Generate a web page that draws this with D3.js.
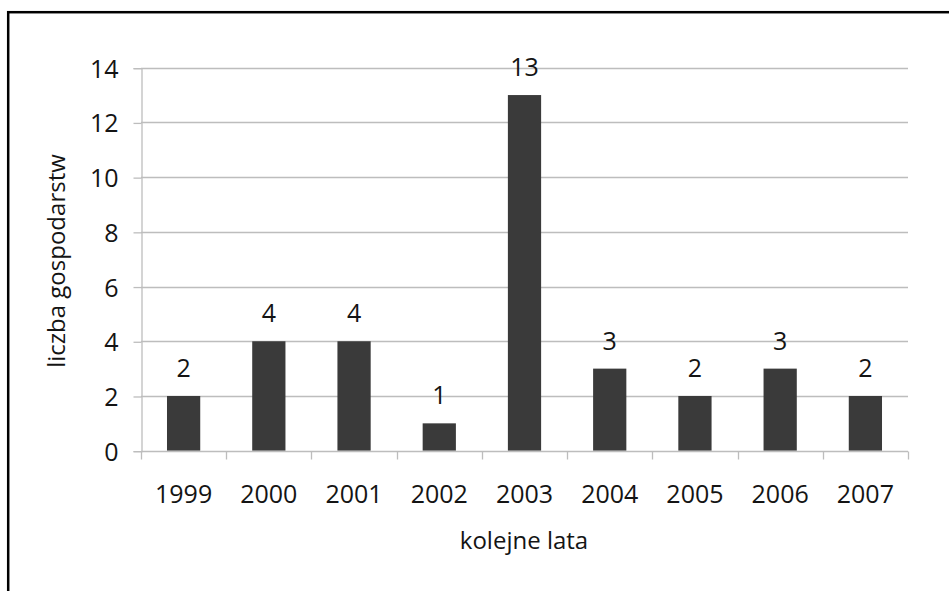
<!DOCTYPE html>
<html>
<head>
<meta charset="utf-8">
<script src="https://cdn.jsdelivr.net/npm/d3@7"></script>
<style>
html,body{margin:0;padding:0;background:#fff;}
svg{display:block;}
text{font-family:"Open Sans",sans-serif;fill:#141414;}
</style>
</head>
<body>
<svg id="chart" width="949" height="591"></svg>
<script>
const years = ["1999","2000","2001","2002","2003","2004","2005","2006","2007"];
const counts = [2,4,4,1,13,3,2,3,2];
const yTicks = [0,2,4,6,8,10,12,14];
const xTitle = "kolejne lata";
const yTitle = "liczba gospodarstw";

const svg = d3.select("#chart");
const plot = {left:141, right:908, top:67.7, bottom:450.7};

// frame
svg.append("rect").attr("x",8.2).attr("y",12.2).attr("width",1200).attr("height",1200)
  .attr("fill","none").attr("stroke","#000").attr("stroke-width",2.5);

const x = d3.scaleBand().domain(years).range([plot.left, plot.right])
  .paddingInner(0.61).paddingOuter(0.305);
const y = d3.scaleLinear().domain([0,14]).range([plot.bottom, plot.top]);

const fsNum = 25, fsTitle = 24;

// gridlines
svg.append("g").selectAll("line").data(yTicks.filter(d=>d>0)).join("line")
  .attr("x1",plot.left).attr("x2",plot.right)
  .attr("y1",d=>Math.round(y(d))+0.5).attr("y2",d=>Math.round(y(d))+0.5)
  .attr("stroke","#bdbdbd").attr("stroke-width",1.3);

// y axis
const yAxis = d3.axisLeft(y).tickValues(yTicks).tickSize(8).tickPadding(15);
const gy = svg.append("g").attr("transform",`translate(${plot.left+0.5},0.5)`).call(yAxis);
gy.select(".domain").attr("stroke","#bdbdbd").attr("stroke-width",1.3);
gy.selectAll(".tick line").attr("stroke","#bdbdbd").attr("stroke-width",1.3);
gy.selectAll(".tick text").attr("font-size",fsNum).attr("font-family","'Open Sans',sans-serif")
  .attr("fill","#141414").attr("dy","0.36em");

// bars
svg.append("g").selectAll("rect").data(counts).join("rect")
  .attr("x",(d,i)=>x(years[i])).attr("width",x.bandwidth())
  .attr("y",d=>y(d)).attr("height",d=>plot.bottom-y(d))
  .attr("fill","#3a3a3a");

// x axis
const gx = svg.append("g").attr("transform",`translate(0,${Math.round(plot.bottom)+0.5})`);
gx.append("line").attr("x1",plot.left).attr("x2",plot.right)
  .attr("stroke","#bdbdbd").attr("stroke-width",1.3);
const bounds = years.map(d=>x(d)-x.step()*x.paddingInner()/2);
bounds[0] = plot.left; bounds.push(plot.right);
gx.selectAll("line.tk").data(bounds).join("line").attr("class","tk")
  .attr("x1",d=>Math.round(d)+0.5).attr("x2",d=>Math.round(d)+0.5)
  .attr("y1",0).attr("y2",8).attr("stroke","#bdbdbd").attr("stroke-width",1.3);
gx.selectAll("text").data(years).join("text")
  .attr("x",d=>x(d)+x.bandwidth()/2).attr("y",51)
  .attr("text-anchor","middle").attr("font-size",fsNum).text(d=>d);

// value labels
svg.append("g").selectAll("text").data(counts).join("text")
  .attr("x",(d,i)=>x(years[i])+x.bandwidth()/2).attr("y",d=>y(d)-19)
  .attr("text-anchor","middle").attr("font-size",fsNum).text(d=>d);

// titles
svg.append("text").attr("x",524).attr("y",549).attr("text-anchor","middle")
  .attr("font-size",fsTitle).text(xTitle);
svg.append("text").attr("transform","translate(65,261) rotate(-90)")
  .attr("text-anchor","middle").attr("font-size",fsTitle).text(yTitle);
</script>
</body>
</html>
